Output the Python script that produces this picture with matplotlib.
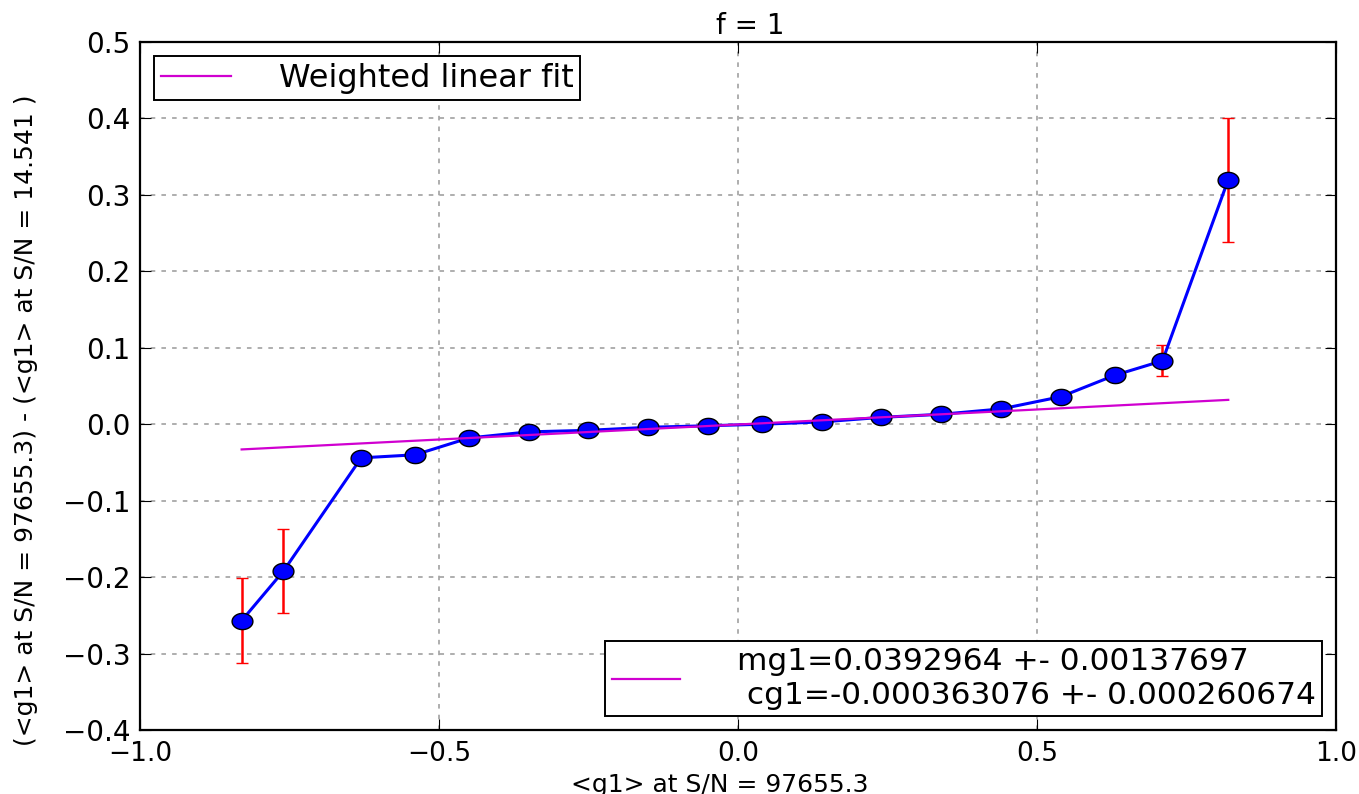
import matplotlib
matplotlib.use("Agg")
import matplotlib.pyplot as plt
from matplotlib.path import Path
import numpy as np

x_vals = [-0.83, -0.76, -0.63, -0.54, -0.45, -0.35, -0.25, -0.15, -0.05,
          0.04, 0.14, 0.24, 0.34, 0.44, 0.54, 0.63, 0.71, 0.82]
y_vals = [-0.257, -0.192, -0.044, -0.040, -0.018, -0.010, -0.008, -0.004, -0.002,
          0.000, 0.003, 0.009, 0.013, 0.020, 0.036, 0.064, 0.083, 0.320]
y_err = [0.056, 0.055, 0.004, 0.004, 0.003, 0.002, 0.002, 0.002, 0.002,
         0.002, 0.002, 0.002, 0.002, 0.003, 0.004, 0.006, 0.020, 0.081]
fit_m = 0.0392964
fit_c = -0.000363076
fit_label = "mg1=0.0392964 +- 0.00137697\n cg1=-0.000363076 +- 0.000260674"
title = "f = 1"
xlabel = "<g1> at S/N = 97655.3"
ylabel = "(<g1> at S/N = 97655.3) - (<g1> at S/N = 14.541 )"
xticks = [-1.0, -0.5, 0.0, 0.5, 1.0]
yticks = [-0.4, -0.3, -0.2, -0.1, 0.0, 0.1, 0.2, 0.3, 0.4, 0.5]

plt.rcParams['font.family'] = ['DejaVu Sans']
fig = plt.figure(figsize=(13.59, 7.94), dpi=100)
ax = fig.add_axes([0.103, 0.0806, 0.880, 0.8665])

# slightly wide elliptical marker
t = np.linspace(0, 2 * np.pi, 41)
ellipse = Path(np.column_stack([np.cos(t), 0.78 * np.sin(t)]), closed=True)

ax.errorbar(x_vals, y_vals, yerr=y_err, fmt='-', marker=ellipse, color='blue', ecolor='red',
            mec='black', mfc='blue', mew=1.0, ms=15, lw=2.2, elinewidth=1.8,
            capsize=4, capthick=1, zorder=3)
xf = np.array([x_vals[0], x_vals[-1]])
line, = ax.plot(xf, fit_m * xf + fit_c, color='#d000d0', lw=1.6, zorder=4)

ax.set_xlim(-1.0, 1.0)
ax.set_ylim(-0.4, 0.5)
ax.set_xticks(xticks)
ax.set_yticks(yticks)
ax.grid(True, color='0.6', linestyle=(0, (3, 4)), linewidth=1.1)
ax.tick_params(direction='in', length=8, top=True, right=True)
ax.tick_params(axis='y', pad=7, labelsize=20)
ax.tick_params(axis='x', pad=8, labelsize=19)
for s in ax.spines.values():
    s.set_linewidth(1.6)

ax.set_title(title, fontsize=20, pad=6, x=0.51)
ax.set_xlabel(xlabel, fontsize=18)
ax.xaxis.set_label_coords(0.485, -0.097)
ax.xaxis.label.set_va('bottom')
ax.set_ylabel(ylabel, fontsize=18)
ax.yaxis.set_label_coords(-0.085, 0.45)

leg1 = ax.legend([line], ['Weighted linear fit'], loc='upper left', fontsize=23,
                 fancybox=False, edgecolor='black', framealpha=1, borderaxespad=0.45,
                 handlelength=2.2, handletextpad=1.5, borderpad=0.2)
leg1.get_frame().set_linewidth(1.4)
ax.add_artist(leg1)
leg2 = ax.legend([line], [fit_label], loc='lower right', fontsize=22.5,
                 fancybox=False, edgecolor='black', framealpha=1, borderaxespad=0.45,
                 handlelength=2.2, handletextpad=1.8, borderpad=0.2, labelspacing=0.1)
leg2.get_frame().set_linewidth(1.4)

fig.savefig('out.png', dpi=100)
